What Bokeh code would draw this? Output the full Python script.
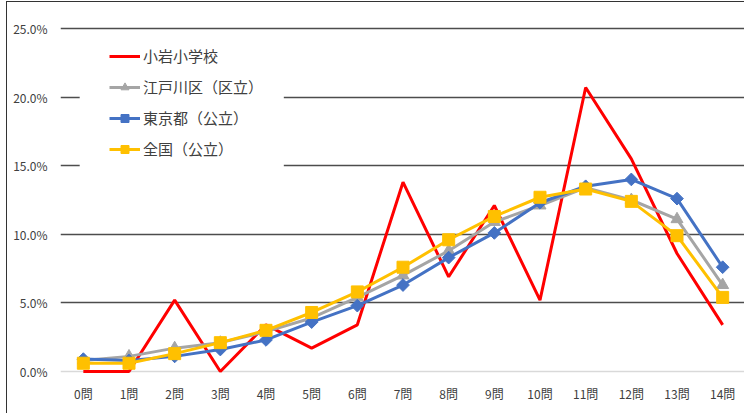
from bokeh.plotting import figure
from bokeh.models import (ColumnDataSource, FixedTicker, PrintfTickFormatter, Legend,
                          LegendItem, Span, BoxAnnotation)
from bokeh.embed import file_html
from bokeh.resources import INLINE

categories = ["0問", "1問", "2問", "3問", "4問", "5問", "6問", "7問",
              "8問", "9問", "10問", "11問", "12問", "13問", "14問"]
koiwa = [0.0, 0.0, 5.2, 0.0, 3.4, 1.7, 3.4, 13.8, 6.9, 12.1, 5.2, 20.7, 15.5, 8.6, 3.4]
edogawa = [0.8, 1.1, 1.7, 2.1, 2.9, 3.9, 5.4, 7.0, 8.8, 10.9, 12.1, 13.4, 12.5, 11.1, 6.3]
tokyo = [0.9, 0.8, 1.1, 1.6, 2.3, 3.6, 4.8, 6.3, 8.3, 10.1, 12.3, 13.5, 14.0, 12.6, 7.6]
zenkoku = [0.6, 0.6, 1.3, 2.1, 3.0, 4.3, 5.8, 7.6, 9.6, 11.3, 12.7, 13.3, 12.4, 9.9, 5.4]
y_ticks = [0, 5, 10, 15, 20, 25]
series_names = ["小岩小学校", "江戸川区（区立）", "東京都（公立）", "全国（公立）"]

FONT = "Noto Sans CJK JP"
TXT = "#404040"

src = ColumnDataSource(dict(cat=categories, koiwa=koiwa, edogawa=edogawa,
                            tokyo=tokyo, zenkoku=zenkoku))

p = figure(x_range=categories, y_range=(-0.44, 25.44), width=738, height=412,
           output_backend="svg", toolbar_location=None,
           min_border_left=53, min_border_right=0, min_border_top=20,
           min_border_bottom=37)
p.styles = {"margin-left": "6px", "margin-top": "1px",
            "border-left": "1.5px solid #333", "border-top": "1.5px solid #333"}
p.outline_line_color = None
p.background_fill_color = "white"
p.border_fill_color = "white"

# axes
p.yaxis.ticker = FixedTicker(ticks=y_ticks)
p.yaxis.formatter = PrintfTickFormatter(format="%.1f%%")
for ax in (p.xaxis[0], p.yaxis[0]):
    ax.axis_line_color = None
    ax.major_tick_line_color = None
    ax.minor_tick_line_color = None
    ax.major_tick_out = 0
    ax.major_tick_in = 0
    ax.major_label_text_font = FONT
    ax.major_label_text_font_size = "12px"
    ax.major_label_text_color = TXT
p.yaxis.major_label_standoff = 13
p.xaxis.major_label_standoff = 7

p.xgrid.grid_line_color = None
p.ygrid.ticker = FixedTicker(ticks=y_ticks[1:])
p.ygrid.grid_line_color = "#4d4d4d"
p.ygrid.grid_line_width = 1.5
p.add_layout(Span(location=y_ticks[0], dimension="width", line_color="#d9d9d9",
                  line_width=1.5, level="underlay"))

r_red = p.line("cat", "koiwa", source=src, line_color="#FF0000", line_width=3)
r_gray = p.line("cat", "edogawa", source=src, line_color="#A5A5A5", line_width=3)
m_gray = p.scatter("cat", "edogawa", source=src, marker="triangle", size=12,
                   fill_color="#A5A5A5", line_color="#A5A5A5")
r_blue = p.line("cat", "tokyo", source=src, line_color="#4472C4", line_width=3)
m_blue = p.scatter("cat", "tokyo", source=src, marker="square", angle=0.785398,
                   size=9, fill_color="#4472C4", line_color="#4472C4")
r_yel = p.line("cat", "zenkoku", source=src, line_color="#FFC000", line_width=3)
m_yel = p.scatter("cat", "zenkoku", source=src, marker="square", size=12,
                  fill_color="#FFC000", line_color="#FFC000")

# white backing panel behind the legend (hides gridlines there, as in the original)
p.add_layout(BoxAnnotation(left=0.42, right=4.89, bottom=13.0, top=24.0,
                           fill_color="white", fill_alpha=1.0, line_color=None,
                           level="annotation"))

legend = Legend(items=[
    LegendItem(label=series_names[0], renderers=[r_red]),
    LegendItem(label=series_names[1], renderers=[r_gray, m_gray]),
    LegendItem(label=series_names[2], renderers=[r_blue, m_blue]),
    LegendItem(label=series_names[3], renderers=[r_yel, m_yel]),
], location=(49, 218), orientation="vertical")
legend.margin = 0
legend.padding = 14
legend.spacing = 10
legend.glyph_width = 31
legend.glyph_height = 20
legend.label_height = 20
legend.label_standoff = 3
legend.label_text_font = FONT
legend.label_text_font_size = "15px"
legend.label_text_color = TXT
legend.border_line_color = None
legend.background_fill_color = "#ffffff"
legend.background_fill_alpha = 1.0
legend.level = "overlay"
p.add_layout(legend, "center")

open("out.html", "w").write(file_html(p, INLINE))
